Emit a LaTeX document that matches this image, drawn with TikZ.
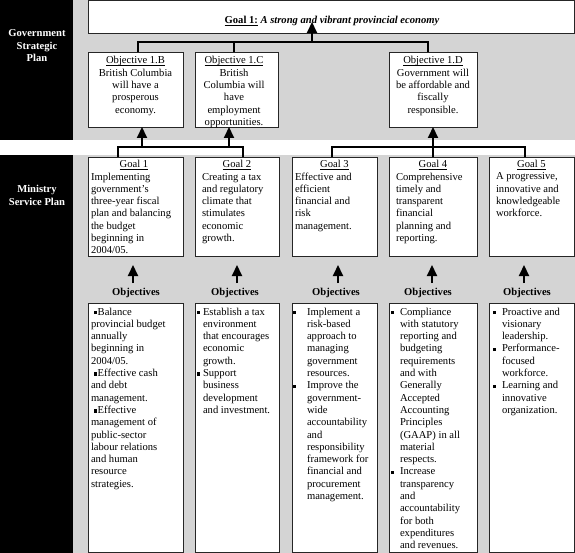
\documentclass[tikz,border=0pt]{standalone}
\usepackage{fontspec}
\setmainfont{Liberation Serif}
\usetikzlibrary{arrows.meta}
\definecolor{bg}{RGB}{212,212,212}
\newcommand\ulx[1]{\setbox0=\hbox{#1}\rlap{\rule[-1.8pt]{\wd0}{0.6pt}}\box0\relax}
\newcommand\bsq{\rule[0.8pt]{3.4pt}{3.4pt}}
\newcommand\Bul[1]{\makebox[#1][l]{\bsq}}
\newcommand\Ind[1]{\hspace*{#1}}
\newcommand\fs{\rule{0pt}{8pt}}
\begin{document}
\begin{tikzpicture}[x=1pt,y=-1pt,
 every node/.style={font=\fontsize{10.6}{12.3}\selectfont, inner sep=0pt, outer sep=0pt},
 box/.style={draw=black!85, line width=0.8pt, fill=white, anchor=north west},
 txt/.style={anchor=north west, align=left},
 ctr/.style={anchor=base, align=center},
 ctrm/.style={anchor=north, align=center},
 conn/.style={line width=2pt, draw=black},
 arr/.style={line width=2pt, draw=black, -{Triangle[width=10pt,length=11pt]}},
 lab/.style={anchor=north, align=center, text=white}
]
\useasboundingbox (0,0) rectangle (575,553);
\fill[bg] (73,0) rectangle (575,140);
\fill[bg] (73,155) rectangle (575,553);
\fill[black] (0,0) rectangle (73,140);
\fill[black] (0,155) rectangle (73,553);

\node[lab] (gsp) at (37,29) {\fs\bfseries Government\\\bfseries Strategic\\\bfseries Plan};
\node[lab] (msp) at (37,185) {\fs\bfseries Ministry\\\bfseries Service Plan};

% top goal
\node[box, minimum width=486pt, minimum height=33pt] (goal) at (88,0) {};
\node[ctr] (goalt) at (332,24) {\bfseries\ulx{Goal 1:}\ \textit{A strong and vibrant provincial economy}};

% objectives 1.B-1.D
\node[box, minimum width=95pt, minimum height=75pt] (o1b) at (88,52) {};
\node[box, minimum width=83pt, minimum height=75pt] (o1c) at (195,52) {};
\node[box, minimum width=88pt, minimum height=75pt] (o1d) at (389,52) {};
\node[ctrm] (o1bt) at (135.5,56) {\fs\ulx{Objective 1.B}\\British Columbia\\will have a\\prosperous\\economy.};
\node[ctrm] (o1ct) at (234,56) {\fs\ulx{Objective 1.C}\\British\\Columbia will\\have\\employment\\opportunities.};
\node[ctrm] (o1dt) at (433,56) {\fs\ulx{Objective 1.D}\\Government will\\be affordable and\\fiscally\\responsible.};

\coordinate (jt) at (312,42);
\draw[conn] ([xshift=2.5pt]o1b.north) |- ([xshift=-5pt]o1d.north |- jt) -- ([xshift=-5pt]o1d.north);
\draw[conn] ([xshift=-2.5pt]o1c.north) -- ([xshift=-2.5pt]o1c.north |- jt);
\draw[arr] (jt) -- ([yshift=11pt]goal.south -| jt);

% ministry goals
\node[box, minimum width=95pt, minimum height=99pt] (g1) at (88,157) {};
\node[box, minimum width=84pt, minimum height=99pt] (g2) at (195,157) {};
\node[box, minimum width=85pt, minimum height=99pt] (g3) at (292,157) {};
\node[box, minimum width=88pt, minimum height=99pt] (g4) at (389,157) {};
\node[box, minimum width=85pt, minimum height=99pt] (g5) at (489,157) {};
\node[ctr] (g1h) at ([yshift=-11pt,xshift=-1.5pt]g1.north) {\ulx{Goal 1}};
\node[ctr] (g2h) at ([yshift=-11pt]g2.north) {\ulx{Goal 2}};
\node[ctr] (g3h) at ([yshift=-11pt]g3.north) {\ulx{Goal 3}};
\node[ctr] (g4h) at ([yshift=-11pt]g4.north) {\ulx{Goal 4}};
\node[ctr] (g5h) at ([yshift=-11pt]g5.north) {\ulx{Goal 5}};
\node[txt] (g1t) at (91,172) {\fs Implementing\\government's\\three-year fiscal\\plan and balancing\\the budget\\beginning in\\2004/05.};
\node[txt] (g2t) at (202,172) {\fs Creating a tax\\and regulatory\\climate that\\stimulates\\economic\\growth.};
\node[txt] (g3t) at (295,172) {\fs Effective and\\efficient\\financial and\\risk\\management.};
\node[txt] (g4t) at (396,172) {\fs Comprehensive\\timely and\\transparent\\financial\\planning and\\reporting.};
\node[txt] (g5t) at (496,172) {\fs A progressive,\\innovative and\\knowledgeable\\workforce.};

\coordinate (hl) at (180,147);
\coordinate (hr) at (433,147);
\coordinate (al1) at (142,147);
\coordinate (al2) at (229,147);
\draw[conn] ([xshift=-17.5pt]g1.north) |- (hl) -| ([xshift=6pt]g2.north);
\draw[arr] (al1) -- (al1 |- o1b.south);
\draw[arr] (al2) -- (al2 |- o1c.south);
\draw[conn] ([xshift=-2.5pt]g3.north) |- (hr) -| ([xshift=-6.5pt]g5.north);
\draw[arr] (hr |- g4.north) -- (hr |- o1d.south);

% arrows goals -> objectives
\coordinate (b1) at (133,283);
\coordinate (b2) at (237,283);
\coordinate (b3) at (338,283);
\coordinate (b4) at (432,283);
\coordinate (b5) at (524,283);
\draw[arr] (b1) -- ([yshift=-9pt]g1.south -| b1);
\draw[arr] (b2) -- ([yshift=-9pt]g2.south -| b2);
\draw[arr] (b3) -- ([yshift=-9pt]g3.south -| b3);
\draw[arr] (b4) -- ([yshift=-9pt]g4.south -| b4);
\draw[arr] (b5) -- ([yshift=-9pt]g5.south -| b5);
\node[ctr] (ob1) at (136,295) {\bfseries Objectives};
\node[ctr] (ob2) at (235,295) {\bfseries Objectives};
\node[ctr] (ob3) at (336,295) {\bfseries Objectives};
\node[ctr] (ob4) at (428,295) {\bfseries Objectives};
\node[ctr] (ob5) at (527,295) {\bfseries Objectives};

% objective lists
\node[box, minimum width=95pt, minimum height=249pt] (l1) at (88,303) {};
\node[box, minimum width=84pt, minimum height=249pt] (l2) at (195,303) {};
\node[box, minimum width=85pt, minimum height=249pt] (l3) at (292,303) {};
\node[box, minimum width=88pt, minimum height=249pt] (l4) at (389,303) {};
\node[box, minimum width=85pt, minimum height=249pt] (l5) at (489,303) {};

\node[txt] (l1t) at (91,307) {\fs\Ind{2.5pt}\bsq\hspace{0.8pt}Balance\\provincial budget\\annually\\beginning in\\2004/05.\\\Ind{2.5pt}\bsq\hspace{0.8pt}Effective cash\\and debt\\management.\\\Ind{2.5pt}\bsq\hspace{0.8pt}Effective\\management of\\public-sector\\labour relations\\and human\\resource\\strategies.};
\node[txt] (l2t) at (197,307) {\fs\Bul{6pt}Establish a tax\\\Ind{6pt}environment\\\Ind{6pt}that encourages\\\Ind{6pt}economic\\\Ind{6pt}growth.\\\Bul{6pt}Support\\\Ind{6pt}business\\\Ind{6pt}development\\\Ind{6pt}and investment.};
\node[txt] (l3t) at (293,307) {\fs\Bul{14pt}Implement a\\\Ind{14pt}risk-based\\\Ind{14pt}approach to\\\Ind{14pt}managing\\\Ind{14pt}government\\\Ind{14pt}resources.\\\Bul{14pt}Improve the\\\Ind{14pt}government-\\\Ind{14pt}wide\\\Ind{14pt}accountability\\\Ind{14pt}and\\\Ind{14pt}responsibility\\\Ind{14pt}framework for\\\Ind{14pt}financial and\\\Ind{14pt}procurement\\\Ind{14pt}management.};
\node[txt] (l4t) at (391,307) {\fs\Bul{9pt}Compliance\\\Ind{9pt}with statutory\\\Ind{9pt}reporting and\\\Ind{9pt}budgeting\\\Ind{9pt}requirements\\\Ind{9pt}and with\\\Ind{9pt}Generally\\\Ind{9pt}Accepted\\\Ind{9pt}Accounting\\\Ind{9pt}Principles\\\Ind{9pt}(GAAP) in all\\\Ind{9pt}material\\\Ind{9pt}respects.\\\Bul{9pt}Increase\\\Ind{9pt}transparency\\\Ind{9pt}and\\\Ind{9pt}accountability\\\Ind{9pt}for both\\\Ind{9pt}expenditures\\\Ind{9pt}and revenues.};
\node[txt] (l5t) at (493,307) {\fs\Bul{9pt}Proactive and\\\Ind{9pt}visionary\\\Ind{9pt}leadership.\\\Bul{9pt}Performance-\\\Ind{9pt}focused\\\Ind{9pt}workforce.\\\Bul{9pt}Learning and\\\Ind{9pt}innovative\\\Ind{9pt}organization.};
\end{tikzpicture}
\end{document}
